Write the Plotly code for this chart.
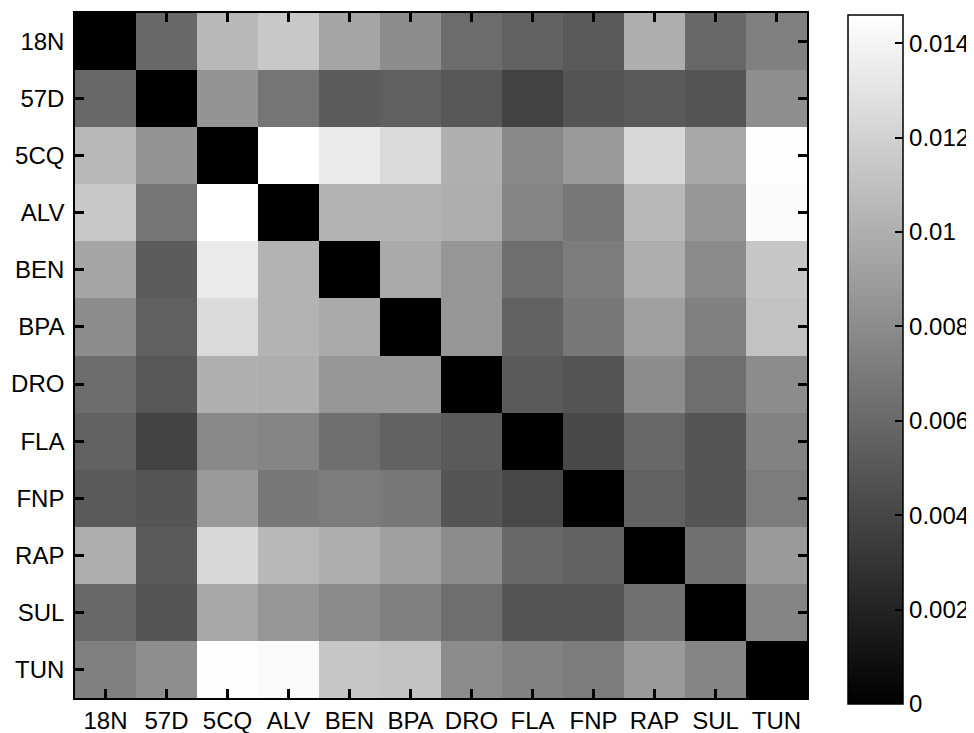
import plotly.graph_objects as go

labels = ["18N", "57D", "5CQ", "ALV", "BEN", "BPA", "DRO", "FLA", "FNP", "RAP", "SUL", "TUN"]

row_18N = [0.0, 0.00595, 0.01054, 0.01145, 0.00945, 0.00807, 0.00618, 0.00561, 0.00515, 0.00996, 0.00595, 0.00733]
row_57D = [0.00595, 0.0, 0.00847, 0.00670, 0.00527, 0.00550, 0.00498, 0.00378, 0.00487, 0.00515, 0.00487, 0.00813]
row_5CQ = [0.01054, 0.00847, 0.0, 0.01460, 0.01340, 0.01248, 0.01008, 0.00779, 0.00882, 0.01237, 0.00962, 0.01455]
row_ALV = [0.01145, 0.00670, 0.01460, 0.0, 0.01025, 0.01025, 0.00996, 0.00761, 0.00687, 0.01054, 0.00859, 0.01431]
row_BEN = [0.00945, 0.00527, 0.01340, 0.01025, 0.0, 0.00973, 0.00859, 0.00630, 0.00710, 0.00996, 0.00790, 0.01134]
row_BPA = [0.00807, 0.00550, 0.01248, 0.01025, 0.00973, 0.0, 0.00859, 0.00561, 0.00687, 0.00916, 0.00733, 0.01111]
row_DRO = [0.00618, 0.00498, 0.01008, 0.00996, 0.00859, 0.00859, 0.0, 0.00515, 0.00487, 0.00802, 0.00630, 0.00802]
row_FLA = [0.00561, 0.00378, 0.00779, 0.00761, 0.00630, 0.00561, 0.00515, 0.0, 0.00412, 0.00595, 0.00487, 0.00744]
row_FNP = [0.00515, 0.00487, 0.00882, 0.00687, 0.00710, 0.00687, 0.00487, 0.00412, 0.0, 0.00561, 0.00487, 0.00710]
row_RAP = [0.00996, 0.00515, 0.01237, 0.01054, 0.00996, 0.00916, 0.00802, 0.00595, 0.00561, 0.0, 0.00641, 0.00882]
row_SUL = [0.00595, 0.00487, 0.00962, 0.00859, 0.00790, 0.00733, 0.00630, 0.00487, 0.00487, 0.00641, 0.0, 0.00761]
row_TUN = [0.00733, 0.00813, 0.01455, 0.01431, 0.01134, 0.01111, 0.00802, 0.00744, 0.00710, 0.00882, 0.00761, 0.0]

z = [row_18N, row_57D, row_5CQ, row_ALV, row_BEN, row_BPA,
     row_DRO, row_FLA, row_FNP, row_RAP, row_SUL, row_TUN]

cbar_ticks = [0, 0.002, 0.004, 0.006, 0.008, 0.01, 0.012, 0.014]
zmax = 0.0146

# The page body adds an 8px offset: positions are shifted by -8 and the figure is
# made wider than the window so the colorbar never pushes the plot margins.
W, H = 1000, 725
L, T = 67, 5
PLOT_R, PLOT_B = 799, 690
R, B = W - PLOT_R, H - PLOT_B
plot_w = PLOT_R - L
plot_h = PLOT_B - T
CB_LEFT, CB_TOP, CB_LEN, CB_THICK = 840, 7, 689, 55

font = dict(family="Liberation Sans, Arial, sans-serif", size=24, color="black")

fig = go.Figure(go.Heatmap(
    z=z, x=labels, y=labels,
    zmin=0, zmax=zmax,
    colorscale=[[0, "black"], [1, "white"]],
    showscale=True,
    colorbar=dict(
        x=(CB_LEFT - L) / plot_w, xanchor="left",
        y=(PLOT_B - CB_TOP) / plot_h, yanchor="top",
        len=CB_LEN, lenmode="pixels",
        thickness=CB_THICK, thicknessmode="pixels",
        xpad=0, ypad=0,
        outlinecolor="black", outlinewidth=1.5,
        tickmode="array", tickvals=cbar_ticks,
        ticks="inside", ticklen=8, tickwidth=2, tickcolor="#000000",
        tickfont=font,
    ),
    hoverinfo="x+y+z",
))

axis_common = dict(
    showline=True, linecolor="black", linewidth=1.5, mirror="ticks",
    ticks="inside", ticklen=9, tickcolor="#000000", tickwidth=3,
    showgrid=False, zeroline=False, tickfont=font, layer="above traces",
    automargin=False,
)

fig.update_layout(
    width=W, height=H,
    margin=dict(l=L, r=R, t=T, b=B, pad=0),
    paper_bgcolor="white", plot_bgcolor="white",
    font=font,
    xaxis=dict(**axis_common, type="category", range=[-0.5, 11.5]),
    yaxis=dict(**axis_common, type="category", autorange="reversed", ticklabelstandoff=4),
)

fig.write_html("out.html")
